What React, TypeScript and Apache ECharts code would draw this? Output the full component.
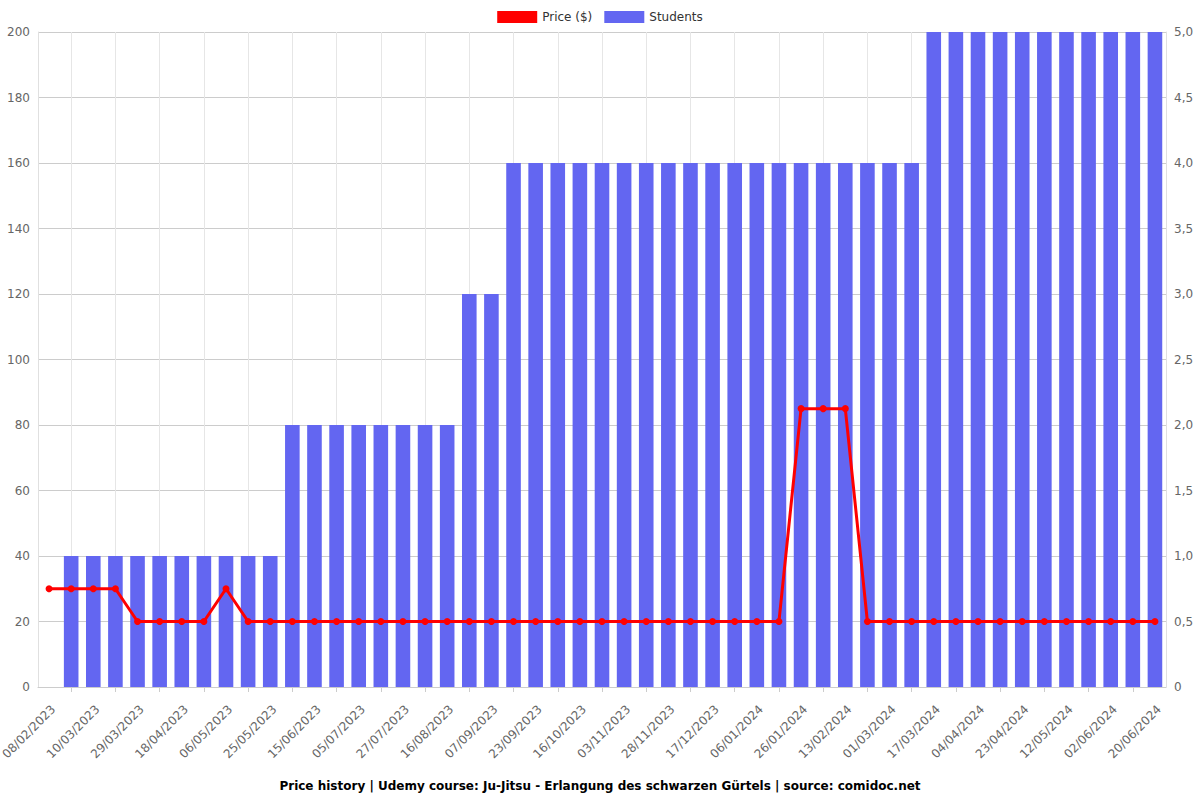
import React, { useEffect, useRef } from "react";
import * as echarts from "echarts";

const categories: string[] = [
  "08/02/2023", "24/02/2023", "10/03/2023", "20/03/2023", "29/03/2023", "08/04/2023",
  "18/04/2023", "27/04/2023", "06/05/2023", "15/05/2023", "25/05/2023", "05/06/2023",
  "15/06/2023", "25/06/2023", "05/07/2023", "16/07/2023", "27/07/2023", "06/08/2023",
  "16/08/2023", "27/08/2023", "07/09/2023", "15/09/2023", "23/09/2023", "05/10/2023",
  "16/10/2023", "25/10/2023", "03/11/2023", "15/11/2023", "28/11/2023", "07/12/2023",
  "17/12/2023", "27/12/2023", "06/01/2024", "16/01/2024", "26/01/2024", "04/02/2024",
  "13/02/2024", "21/02/2024", "01/03/2024", "09/03/2024", "17/03/2024", "26/03/2024",
  "04/04/2024", "13/04/2024", "23/04/2024", "02/05/2024", "12/05/2024", "23/05/2024",
  "02/06/2024", "11/06/2024", "20/06/2024",
];

const prices: number[] = [
  30, 30, 30, 30, 20, 20, 20, 20, 30, 20,
  20, 20, 20, 20, 20, 20, 20, 20, 20, 20,
  20, 20, 20, 20, 20, 20, 20, 20, 20, 20,
  20, 20, 20, 20, 85, 85, 85, 20, 20, 20,
  20, 20, 20, 20, 20, 20, 20, 20, 20, 20,
  20,
];

const students: number[] = [
  0, 1, 1, 1, 1, 1, 1, 1, 1, 1,
  1, 2, 2, 2, 2, 2, 2, 2, 2, 3,
  3, 4, 4, 4, 4, 4, 4, 4, 4, 4,
  4, 4, 4, 4, 4, 4, 4, 4, 4, 4,
  5, 5, 5, 5, 5, 5, 5, 5, 5, 5,
  5,
];

const titleText =
  "Price history | Udemy course: Ju-Jitsu - Erlangung des schwarzen Gürtels | source: comidoc.net";

const FONT = "DejaVu Sans";

export default function App() {
  const ref = useRef<HTMLDivElement>(null);

  useEffect(() => {
    if (!ref.current) return;
    const chart = echarts.init(ref.current, undefined, { renderer: "svg" });
    const odd = (i: number) => i % 2 === 1;
    chart.setOption({
      animation: false,
      textStyle: { fontFamily: FONT },
      title: {
        text: titleText,
        left: "center",
        top: 775,
        textStyle: { fontSize: 12, fontWeight: "bold", color: "#000", fontFamily: FONT },
      },
      legend: {
        top: 6,
        left: "center",
        icon: "rect",
        itemWidth: 40,
        itemHeight: 12,
        itemGap: 12,
        textStyle: { fontSize: 12, color: "#333", fontFamily: FONT },
        data: ["Price ($)", "Students"],
      },
      grid: {
        left: 38,
        right: 34,
        top: 32,
        bottom: 113,
        containLabel: false,
        outerBoundsMode: "none",
      },
      xAxis: {
        type: "category",
        data: categories,
        boundaryGap: true,
        axisLine: { show: true, lineStyle: { color: "#ccc" } },
        axisTick: { show: true, alignWithLabel: true, interval: odd, lineStyle: { color: "#ccc" } },
        splitLine: {
          show: true,
          interval: odd,
          alignWithLabel: true,
          lineStyle: { color: "#e6e6e6" },
        },
        axisLabel: {
          interval: 1,
          rotate: 45,
          fontSize: 12,
          color: "#666",
          margin: 16,
          verticalAlign: "top",
          fontFamily: FONT,
        },
      },
      yAxis: [
        {
          type: "value",
          min: 0,
          max: 200,
          interval: 20,
          axisLine: { show: true, lineStyle: { color: "#e0e0e0" } },
          axisLabel: { fontSize: 12, color: "#666", fontFamily: FONT },
          splitLine: { show: true, lineStyle: { color: "#ccc" } },
        },
        {
          type: "value",
          min: 0,
          max: 5,
          interval: 0.5,
          position: "right",
          axisLine: { show: true, lineStyle: { color: "#e0e0e0" } },
          axisLabel: {
            fontSize: 12,
            color: "#666",
            fontFamily: FONT,
            formatter: (v: number) => (v === 0 ? "0" : v.toFixed(1).replace(".", ",")),
          },
          splitLine: { show: false },
        },
      ],
      series: [
        {
          name: "Price ($)",
          type: "line",
          yAxisIndex: 0,
          data: prices,
          z: 5,
          symbol: "circle",
          symbolSize: 7,
          showAllSymbol: true,
          lineStyle: { color: "#ff0000", width: 3 },
          itemStyle: { color: "#ff0000" },
        },
        {
          name: "Students",
          type: "bar",
          yAxisIndex: 1,
          data: students,
          barWidth: "66%",
          itemStyle: { color: "#6366f1" },
        },
      ],
    });
    return () => chart.dispose();
  }, []);

  return (
    <div
      ref={ref}
      style={{ position: "fixed", left: 0, top: 0, width: 1200, height: 800, background: "#fff" }}
    />
  );
}
